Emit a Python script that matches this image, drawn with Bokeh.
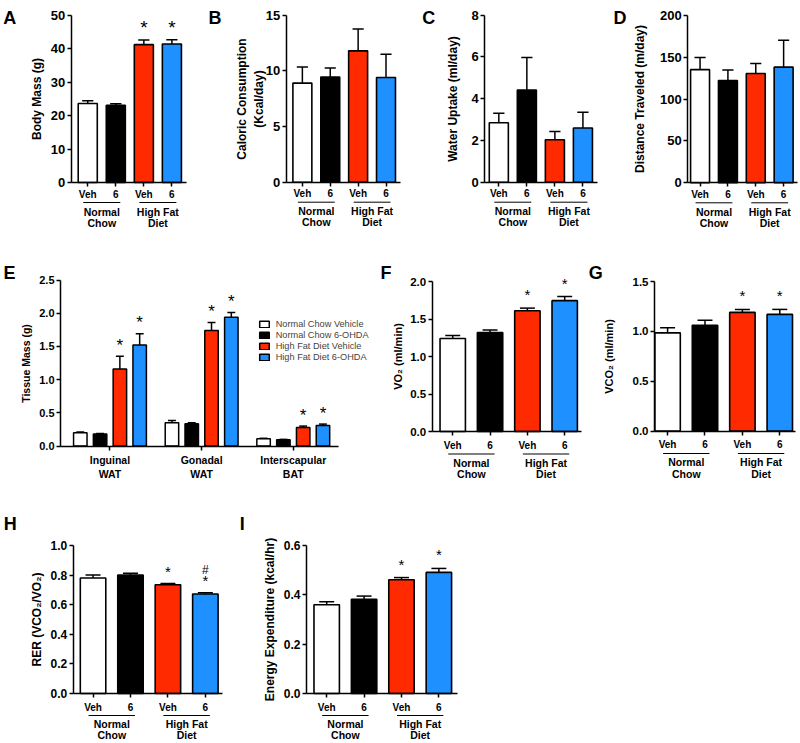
from bokeh.plotting import figure
from bokeh.models import (Range1d, FixedTicker, NumeralTickFormatter, Legend, LegendItem,
                          ColumnDataSource)
from bokeh.core.properties import value
from bokeh.layouts import column, row
from bokeh.embed import file_html
from bokeh.resources import INLINE

FONT = "Liberation Sans"
BAR_COLORS = ["#FFFFFF", "#000000", "#FF2A00", "#1E90FF"]

# ---------------- data ----------------
x_tick_labels = ["Veh", "6", "Veh", "6"]
group_names = [("Normal", "Chow"), ("High Fat", "Diet")]

body_mass = [23.6, 23.1, 41.2, 41.4]
body_mass_err = [0.8, 0.45, 1.4, 1.3]
caloric = [8.9, 9.45, 11.8, 9.4]
caloric_err = [1.45, 0.8, 1.95, 2.1]
water = [2.85, 4.42, 2.03, 2.6]
water_err = [0.45, 1.55, 0.4, 0.75]
distance = [135, 122, 130.5, 138]
distance_err = [14.5, 12.5, 12, 32]

tissues = ["Inguinal\nWAT", "Gonadal\nWAT", "Interscapular\nBAT"]
legend_labels = ["Normal Chow Vehicle", "Normal Chow 6-OHDA",
                 "High Fat Diet Vehicle", "High Fat Diet 6-OHDA"]
tissue_mass = [
    [0.20, 0.35, 0.11],
    [0.18, 0.335, 0.095],
    [1.16, 1.74, 0.28],
    [1.52, 1.94, 0.31],
]
tissue_err = [
    [0.01, 0.035, 0.006],
    [0.01, 0.015, 0.005],
    [0.19, 0.12, 0.02],
    [0.17, 0.07, 0.02],
]
tissue_marks = [["", "", ""], ["", "", ""], ["*", "*", "*"], ["*", "*", "*"]]

vo2 = [1.24, 1.32, 1.61, 1.745]
vo2_err = [0.04, 0.035, 0.035, 0.055]
vco2 = [0.985, 1.06, 1.19, 1.17]
vco2_err = [0.05, 0.05, 0.03, 0.05]
rer = [0.78, 0.80, 0.735, 0.672]
rer_err = [0.02, 0.013, 0.009, 0.009]
energy = [0.36, 0.382, 0.461, 0.491]
energy_err = [0.012, 0.013, 0.009, 0.016]

stars_hfd = ["", "", "*", "*"]
no_marks = ["", "", "", ""]
rer_hash = ["", "", "", "#"]

TOP_ROW = dict(veh_standoff=2, line=20, l1=29, l2=40)
MID_ROW = dict(veh_standoff=4, line=22.5, l1=31, l2=42.5)
BOT_ROW = dict(veh_standoff=4, line=22, l1=30.5, l2=41.5)


def add_text(p, xs, ys, texts, size, bold=True, align="center", baseline="middle"):
    p.text(x=xs, y=ys, text=texts, text_font=value(FONT),
           text_font_size=value(f"{size}px"),
           text_font_style="bold" if bold else "normal",
           text_align=align, text_baseline=baseline, text_color="black")


def base_fig(box, frame, xr, ymax, yticks, yfmt, ylabel, ylsize, ylstand, ytsize):
    bx0, bx1, by0, by1 = box
    fl, fr, ft, fb = frame
    kx = (xr[1] - xr[0]) / (fr - fl)
    ky = ymax / (fb - ft)
    X0 = xr[0] - (fl - bx0) * kx
    X1 = xr[1] + (bx1 - fr) * kx
    Y0 = -(by1 - fb) * ky
    Y1 = ymax + (ft - by0) * ky
    p = figure(width=bx1 - bx0, height=by1 - by0, x_range=Range1d(X0, X1),
               y_range=Range1d(Y0, Y1), min_border=0, output_backend="svg",
               toolbar_location=None, tools="")
    p.outline_line_color = None
    p.xgrid.visible = False
    p.ygrid.visible = False
    xa = p.xaxis[0]
    ya = p.yaxis[0]
    xa.fixed_location = 0
    xa.bounds = (xr[0], xr[1])
    ya.fixed_location = xr[0]
    ya.bounds = (0, ymax)
    ya.ticker = FixedTicker(ticks=yticks)
    ya.formatter = NumeralTickFormatter(format=yfmt)
    ya.axis_label = ylabel
    ya.axis_label_text_font = FONT
    ya.axis_label_text_font_style = "bold"
    ya.axis_label_text_font_size = f"{ylsize}px"
    ya.axis_label_standoff = int(round(ylstand))
    ya.axis_label_text_color = "black"
    ya.major_label_text_font_size = f"{ytsize}px"
    for ax in (xa, ya):
        ax.axis_line_width = 1.5
        ax.axis_line_color = "black"
        ax.major_tick_line_width = 1.5
        ax.major_tick_line_color = "black"
        ax.major_tick_out = 4
        ax.major_tick_in = 0
        ax.minor_tick_line_color = None
        ax.major_label_text_font = FONT
        ax.major_label_text_font_style = "bold"
        ax.major_label_text_color = "black"
        ax.major_label_standoff = 2
    geo = dict(kx=kx, ky=ky, fl=fl, ft=ft, xr=xr, ymax=ymax)
    return p, geo


def add_letter(p, geo, letter, lxy):
    lx, lb = lxy
    x = geo["xr"][0] + (lx - geo["fl"]) * geo["kx"]
    y = geo["ymax"] - (lb - geo["ft"]) * geo["ky"]
    add_text(p, [x], [y], [letter], 18, align="left", baseline="alphabetic")


def add_marks(p, geo, xs, tops, marks, size, off):
    mx = [x for x, m in zip(xs, marks) if m]
    my = [t + off * geo["ky"] for t, m in zip(tops, marks) if m]
    mt = [m for m in marks if m]
    if mt:
        add_text(p, mx, my, mt, size, bold=False, baseline="alphabetic")


def add_errors(p, xs, vals, errs, cap):
    tops = [v + e for v, e in zip(vals, errs)]
    p.segment(x0=xs, y0=vals, x1=xs, y1=tops, line_color="black", line_width=1.5)
    p.segment(x0=[x - cap for x in xs], y0=tops, x1=[x + cap for x in xs], y1=tops,
              line_color="black", line_width=1.5)
    return tops


def four_bar(box, frame, xr, ymax, yticks, yfmt, ylabel, ylsize, ylstand, ytsize,
             vals, errs, marks, msize, moff, letter, lxy, rowcfg,
             marks2=None, m2size=12, m2off=18):
    p, geo = base_fig(box, frame, xr, ymax, yticks, yfmt, ylabel, ylsize, ylstand, ytsize)
    xs = [0, 1, 2, 3]
    src = ColumnDataSource(dict(x=xs, top=vals, color=BAR_COLORS))
    p.vbar(x="x", top="top", bottom=0, width=0.68, fill_color="color",
           line_color="black", line_width=1.6, source=src)
    tops = add_errors(p, xs, vals, errs, 0.2)
    xa = p.xaxis[0]
    xa.ticker = FixedTicker(ticks=xs)
    xa.major_label_overrides = {i: t for i, t in enumerate(x_tick_labels)}
    xa.major_label_text_font_size = "10px"
    xa.major_label_standoff = rowcfg["veh_standoff"]
    kx, ky = geo["kx"], geo["ky"]
    gx = [0.5, 2.5]
    add_text(p, gx, [-rowcfg["l1"] * ky] * 2, [g[0] for g in group_names], 10.5)
    add_text(p, gx, [-rowcfg["l2"] * ky] * 2, [g[1] for g in group_names], 10.5)
    yl = -rowcfg["line"] * ky
    p.segment(x0=[0 - 4.5 * kx, 2 - 4.5 * kx], y0=[yl, yl],
              x1=[1 + 4.5 * kx, 3 + 4.5 * kx], y1=[yl, yl],
              line_color="black", line_width=1)
    add_marks(p, geo, xs, tops, marks, msize, moff)
    if marks2:
        add_marks(p, geo, xs, tops, marks2, m2size, m2off)
    add_letter(p, geo, letter, lxy)
    return p


# ---------------- top row ----------------
pA = four_bar((0, 200, 0, 252), (70.7, 185.7, 14.7, 182), (-0.59, 3.51), 50,
              [0, 10, 20, 30, 40, 50], "0", "Body Mass (g)", 12, 4, 13,
              body_mass, body_mass_err, stars_hfd, 19, 12, "A", (2.7, 17), TOP_ROW)
pB = four_bar((200, 405, 0, 252), (285.7, 400, 14.7, 181.7), (-0.58, 3.52), 15,
              [0, 5, 10, 15], "0", "Caloric Consumption\n(Kcal/day)", 12, -3, 13,
              caloric, caloric_err, no_marks, 19, 12, "B", (208, 17), TOP_ROW)
pC = four_bar((405, 603, 0, 252), (484.3, 597, 14.7, 181.7), (-0.5, 3.52), 8,
              [0, 2, 4, 6, 8], "0", "Water Uptake (ml/day)", 12, 8, 13,
              water, water_err, no_marks, 19, 12, "C", (421.7, 17), TOP_ROW)
pD = four_bar((603, 799, 0, 252), (687.3, 796.5, 14.7, 182.3), (-0.44, 3.48), 200,
              [0, 50, 100, 150, 200], "0", "Distance Traveled (m/day)", 12, 10, 13,
              distance, distance_err, no_marks, 19, 12, "D", (613, 17), TOP_ROW)

# ---------------- E ----------------
E_box = (0, 376, 252, 505)
E_frame = (60, 338.3, 279.5, 445.5)
E_xr = (-2.5, 11.56)
group_pos = [0, 4.63, 9.26]
offsets = [-1.5, -0.5, 0.5, 1.5]
pE, geoE = base_fig(E_box, E_frame, E_xr, 2.5, [0, 0.5, 1.0, 1.5, 2.0, 2.5], "0.0",
                    "Tissue Mass (g)", 10.5, 4, 11)
items = []
for si in range(4):
    xs = [g + offsets[si] for g in group_pos]
    r = pE.vbar(x=xs, top=tissue_mass[si], bottom=0, width=0.68,
                fill_color=BAR_COLORS[si], line_color="black", line_width=1.5)
    tops = add_errors(pE, xs, tissue_mass[si], tissue_err[si], 0.2)
    items.append(LegendItem(label=legend_labels[si], renderers=[r]))
    add_marks(pE, geoE, xs, tops, tissue_marks[si], 17, 11)
xaE = pE.xaxis[0]
xaE.ticker = FixedTicker(ticks=group_pos)
xaE.major_label_overrides = {g: t for g, t in zip(group_pos, tissues)}
xaE.major_label_text_font_size = "10.5px"
xaE.major_label_standoff = 4
leg = Legend(items=items, location=(257.7, 143), glyph_width=12, glyph_height=8,
             label_text_font=FONT, label_text_font_size="9.2px", label_standoff=6,
             spacing=1, padding=0, margin=0, border_line_color=None,
             background_fill_alpha=0, label_height=8)
pE.add_layout(leg)
add_letter(pE, geoE, "E", (3, 272.7))

# ---------------- F, G ----------------
pF = four_bar((376, 586, 252, 505), (431.7, 581, 281, 431), (-0.55, 3.45), 2.0,
              [0, 0.5, 1.0, 1.5, 2.0], "0.0", "VO\u2082 (ml/min)", 11, 4, 11.5,
              vo2, vo2_err, stars_hfd, 15, 13.5, "F", (380, 272.7), MID_ROW)
pG = four_bar((586, 799, 252, 505), (654, 795, 281, 430.5), (-0.35, 3.42), 1.5,
              [0, 0.5, 1.0, 1.5], "0.0", "VCO\u2082 (ml/min)", 11, 15, 11.5,
              vco2, vco2_err, stars_hfd, 15, 13.5, "G", (588.3, 272.7), MID_ROW)

# ---------------- H, I ----------------
pH = four_bar((0, 236, 505, 742), (72.7, 221.7, 545, 693), (-0.53, 3.45), 1.0,
              [0, 0.2, 0.4, 0.6, 0.8, 1.0], "0.0", "RER (VCO\u2082/VO\u2082)", 12, 4, 12,
              rer, rer_err, stars_hfd, 15, 12, "H", (3.3, 523), BOT_ROW,
              marks2=rer_hash, m2size=12, m2off=23)
pI = four_bar((236, 470, 505, 742), (306, 456.7, 545, 693), (-0.54, 3.49), 0.6,
              [0, 0.2, 0.4, 0.6], "0.0", "Energy Expenditure (kcal/hr)", 12, 4, 12,
              energy, energy_err, stars_hfd, 15, 13.5, "I", (239.3, 523), BOT_ROW)

layout = column(row(pA, pB, pC, pD), row(pE, pF, pG), row(pH, pI))
open("out.html", "w").write(file_html(layout, INLINE))
